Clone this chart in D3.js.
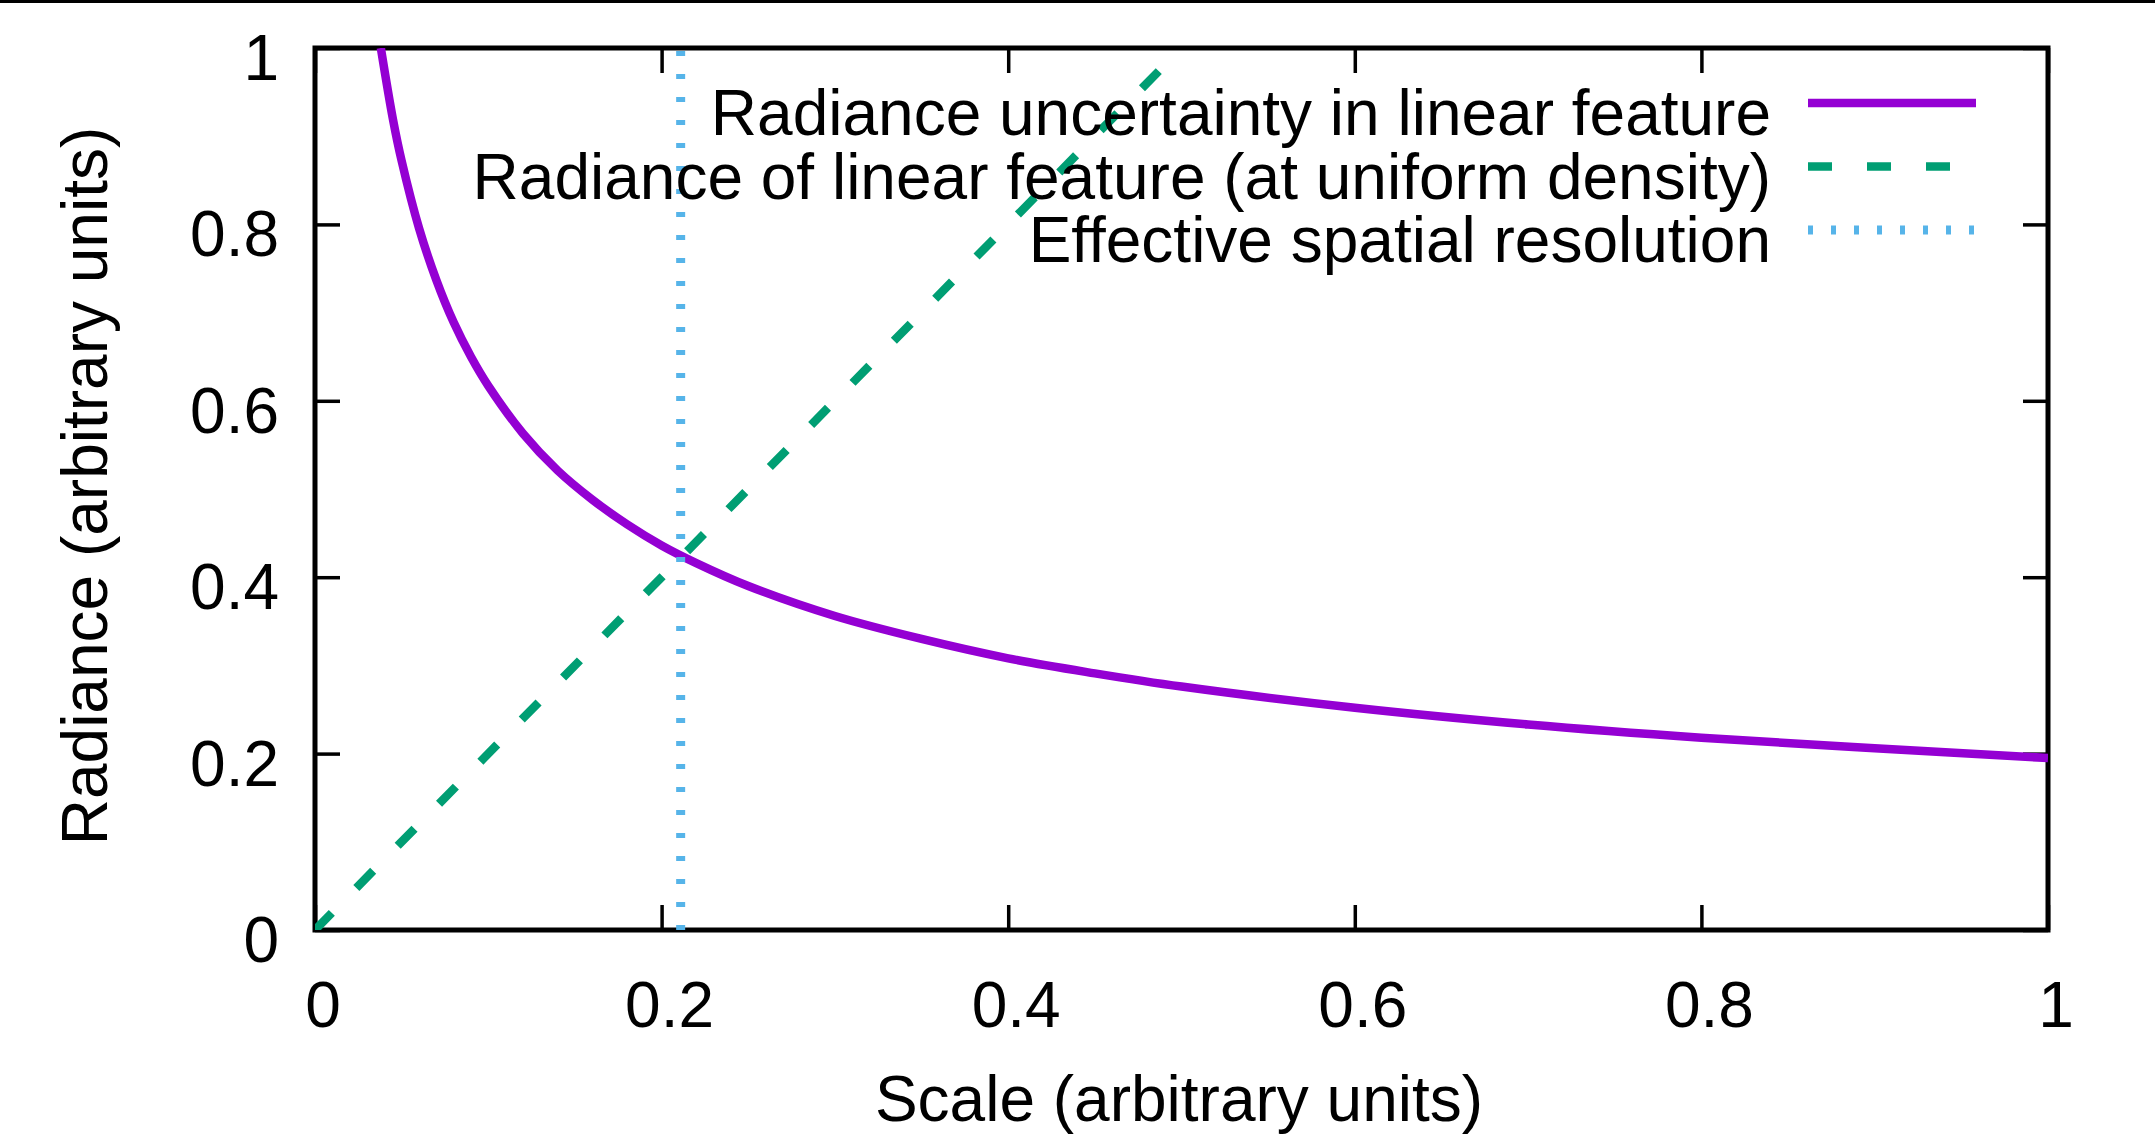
<!DOCTYPE html>
<html><head><meta charset="utf-8">
<script src="https://cdn.jsdelivr.net/npm/d3@7"></script>
<style>html,body{margin:0;padding:0;background:#fff;overflow:hidden}</style>
</head><body>
<svg id="chart" width="2155" height="1141"></svg>
<script>
// ---- data ----
const xTicks = [0, 0.2, 0.4, 0.6, 0.8, 1];
const yTicks = [0, 0.2, 0.4, 0.6, 0.8, 1];
const xTickLabels = ["0", "0.2", "0.4", "0.6", "0.8", "1"];
const yTickLabels = ["0", "0.2", "0.4", "0.6", "0.8", "1"];

const uncertaintyX = [0.038, 0.045, 0.05, 0.06, 0.07, 0.08, 0.09, 0.10, 0.12, 0.14, 0.16, 0.18, 0.20, 0.22, 0.25, 0.30, 0.35, 0.40, 0.45, 0.50, 0.60, 0.70, 0.80, 0.90, 1.00];
const uncertaintyY = [1.000, 0.919, 0.872, 0.796, 0.737, 0.689, 0.650, 0.617, 0.563, 0.521, 0.488, 0.460, 0.436, 0.416, 0.390, 0.356, 0.330, 0.308, 0.291, 0.276, 0.252, 0.233, 0.218, 0.206, 0.195];

const featureX = [0, 0.49];
const featureY = [0, 0.98];

const resolutionX = [0.211, 0.211];
const resolutionY = [0, 1];

const seriesNames = [
  "Radiance uncertainty in linear feature",
  "Radiance of linear feature (at uniform density)",
  "Effective spatial resolution"
];
const xTitle = "Scale (arbitrary units)";
const yTitle = "Radiance (arbitrary units)";

// ---- layout / style ----
const W = 2155, H = 1141;
const L = 315, R = 2048, T = 48, B = 930;
const FONT = "'Liberation Sans', Arial, Helvetica, sans-serif";
const FS = 64;
const colors = ["#9400D3", "#009E73", "#56B4E9"];
const dashes = [null, "24 35", "5 18"];
const widths = [8.5, 8.5, 9];

const svg = d3.select("#chart");
svg.append("rect").attr("x", 0).attr("y", 0).attr("width", W).attr("height", H).attr("fill", "#fff");
svg.append("rect").attr("x", 0).attr("y", 0).attr("width", W).attr("height", 3).attr("fill", "#000");

const x = d3.scaleLinear().domain([0, 1]).range([L, R]);
const y = d3.scaleLinear().domain([0, 1]).range([B, T]);

// ticks on all four sides, pointing inward
const TK = 25;
function tickAxis(axis, tx, ty) {
  const g = svg.append("g").attr("transform", `translate(${tx},${ty})`).call(axis);
  g.select(".domain").remove();
  g.selectAll("line").attr("stroke", "#000").attr("stroke-width", 3.5);
  g.selectAll("text").remove();
}
tickAxis(d3.axisBottom(x).tickValues(xTicks).tickSize(-TK), 0, B);
tickAxis(d3.axisTop(x).tickValues(xTicks).tickSize(-TK), 0, T);
tickAxis(d3.axisLeft(y).tickValues(yTicks).tickSize(-TK), L, 0);
tickAxis(d3.axisRight(y).tickValues(yTicks).tickSize(-TK), R, 0);

// frame
svg.append("rect").attr("x", L).attr("y", T).attr("width", R - L).attr("height", B - T)
  .attr("fill", "none").attr("stroke", "#000").attr("stroke-width", 5);

// tick labels
svg.append("g").selectAll("text").data(xTicks).join("text")
  .attr("x", d => x(d) + 8).attr("y", B + 97)
  .attr("text-anchor", "middle").attr("font-family", FONT).attr("font-size", FS).attr("fill", "#000")
  .text((d, i) => xTickLabels[i]);
svg.append("g").selectAll("text").data(yTicks).join("text")
  .attr("x", L - 36).attr("y", d => y(d) + 32)
  .attr("text-anchor", "end").attr("font-family", FONT).attr("font-size", FS).attr("fill", "#000")
  .text((d, i) => yTickLabels[i]);

// axis titles
svg.append("text").attr("x", 1179).attr("y", 1121).attr("text-anchor", "middle")
  .attr("font-family", FONT).attr("font-size", FS).attr("fill", "#000").text(xTitle);
svg.append("text").attr("transform", "translate(107,486) rotate(-90)").attr("text-anchor", "middle")
  .attr("font-family", FONT).attr("font-size", FS).attr("fill", "#000").text(yTitle);

// clip
svg.append("clipPath").attr("id", "plotclip").append("rect")
  .attr("x", L).attr("y", T).attr("width", R - L).attr("height", B - T);

const series = [
  uncertaintyX.map((v, i) => [v, uncertaintyY[i]]),
  featureX.map((v, i) => [v, featureY[i]]),
  resolutionX.map((v, i) => [v, resolutionY[i]])
];
const line = d3.line().x(d => x(d[0])).y(d => y(d[1])).curve(d3.curveCatmullRom.alpha(0.5));
const plotG = svg.append("g").attr("clip-path", "url(#plotclip)");
series.forEach((s, i) => {
  plotG.append("path").datum(s).attr("d", line)
    .attr("fill", "none").attr("stroke", colors[i]).attr("stroke-width", widths[i])
    .attr("stroke-dasharray", dashes[i]).attr("stroke-linecap", "butt").attr("stroke-linejoin", "round");
});

// legend
const legTextX = 1771, legBase0 = 135, legStep = 63.5, sampX0 = 1808, sampX1 = 1976;
const leg = svg.append("g");
seriesNames.forEach((name, i) => {
  const by = legBase0 + i * legStep;
  leg.append("text").attr("x", legTextX).attr("y", by).attr("text-anchor", "end")
    .attr("font-family", FONT).attr("font-size", FS).attr("fill", "#000").text(name);
  leg.append("line").attr("x1", sampX0).attr("x2", sampX1).attr("y1", by - 32).attr("y2", by - 32)
    .attr("stroke", colors[i]).attr("stroke-width", widths[i]).attr("stroke-dasharray", dashes[i])
    .attr("stroke-linecap", "butt");
});
</script>
</body></html>
